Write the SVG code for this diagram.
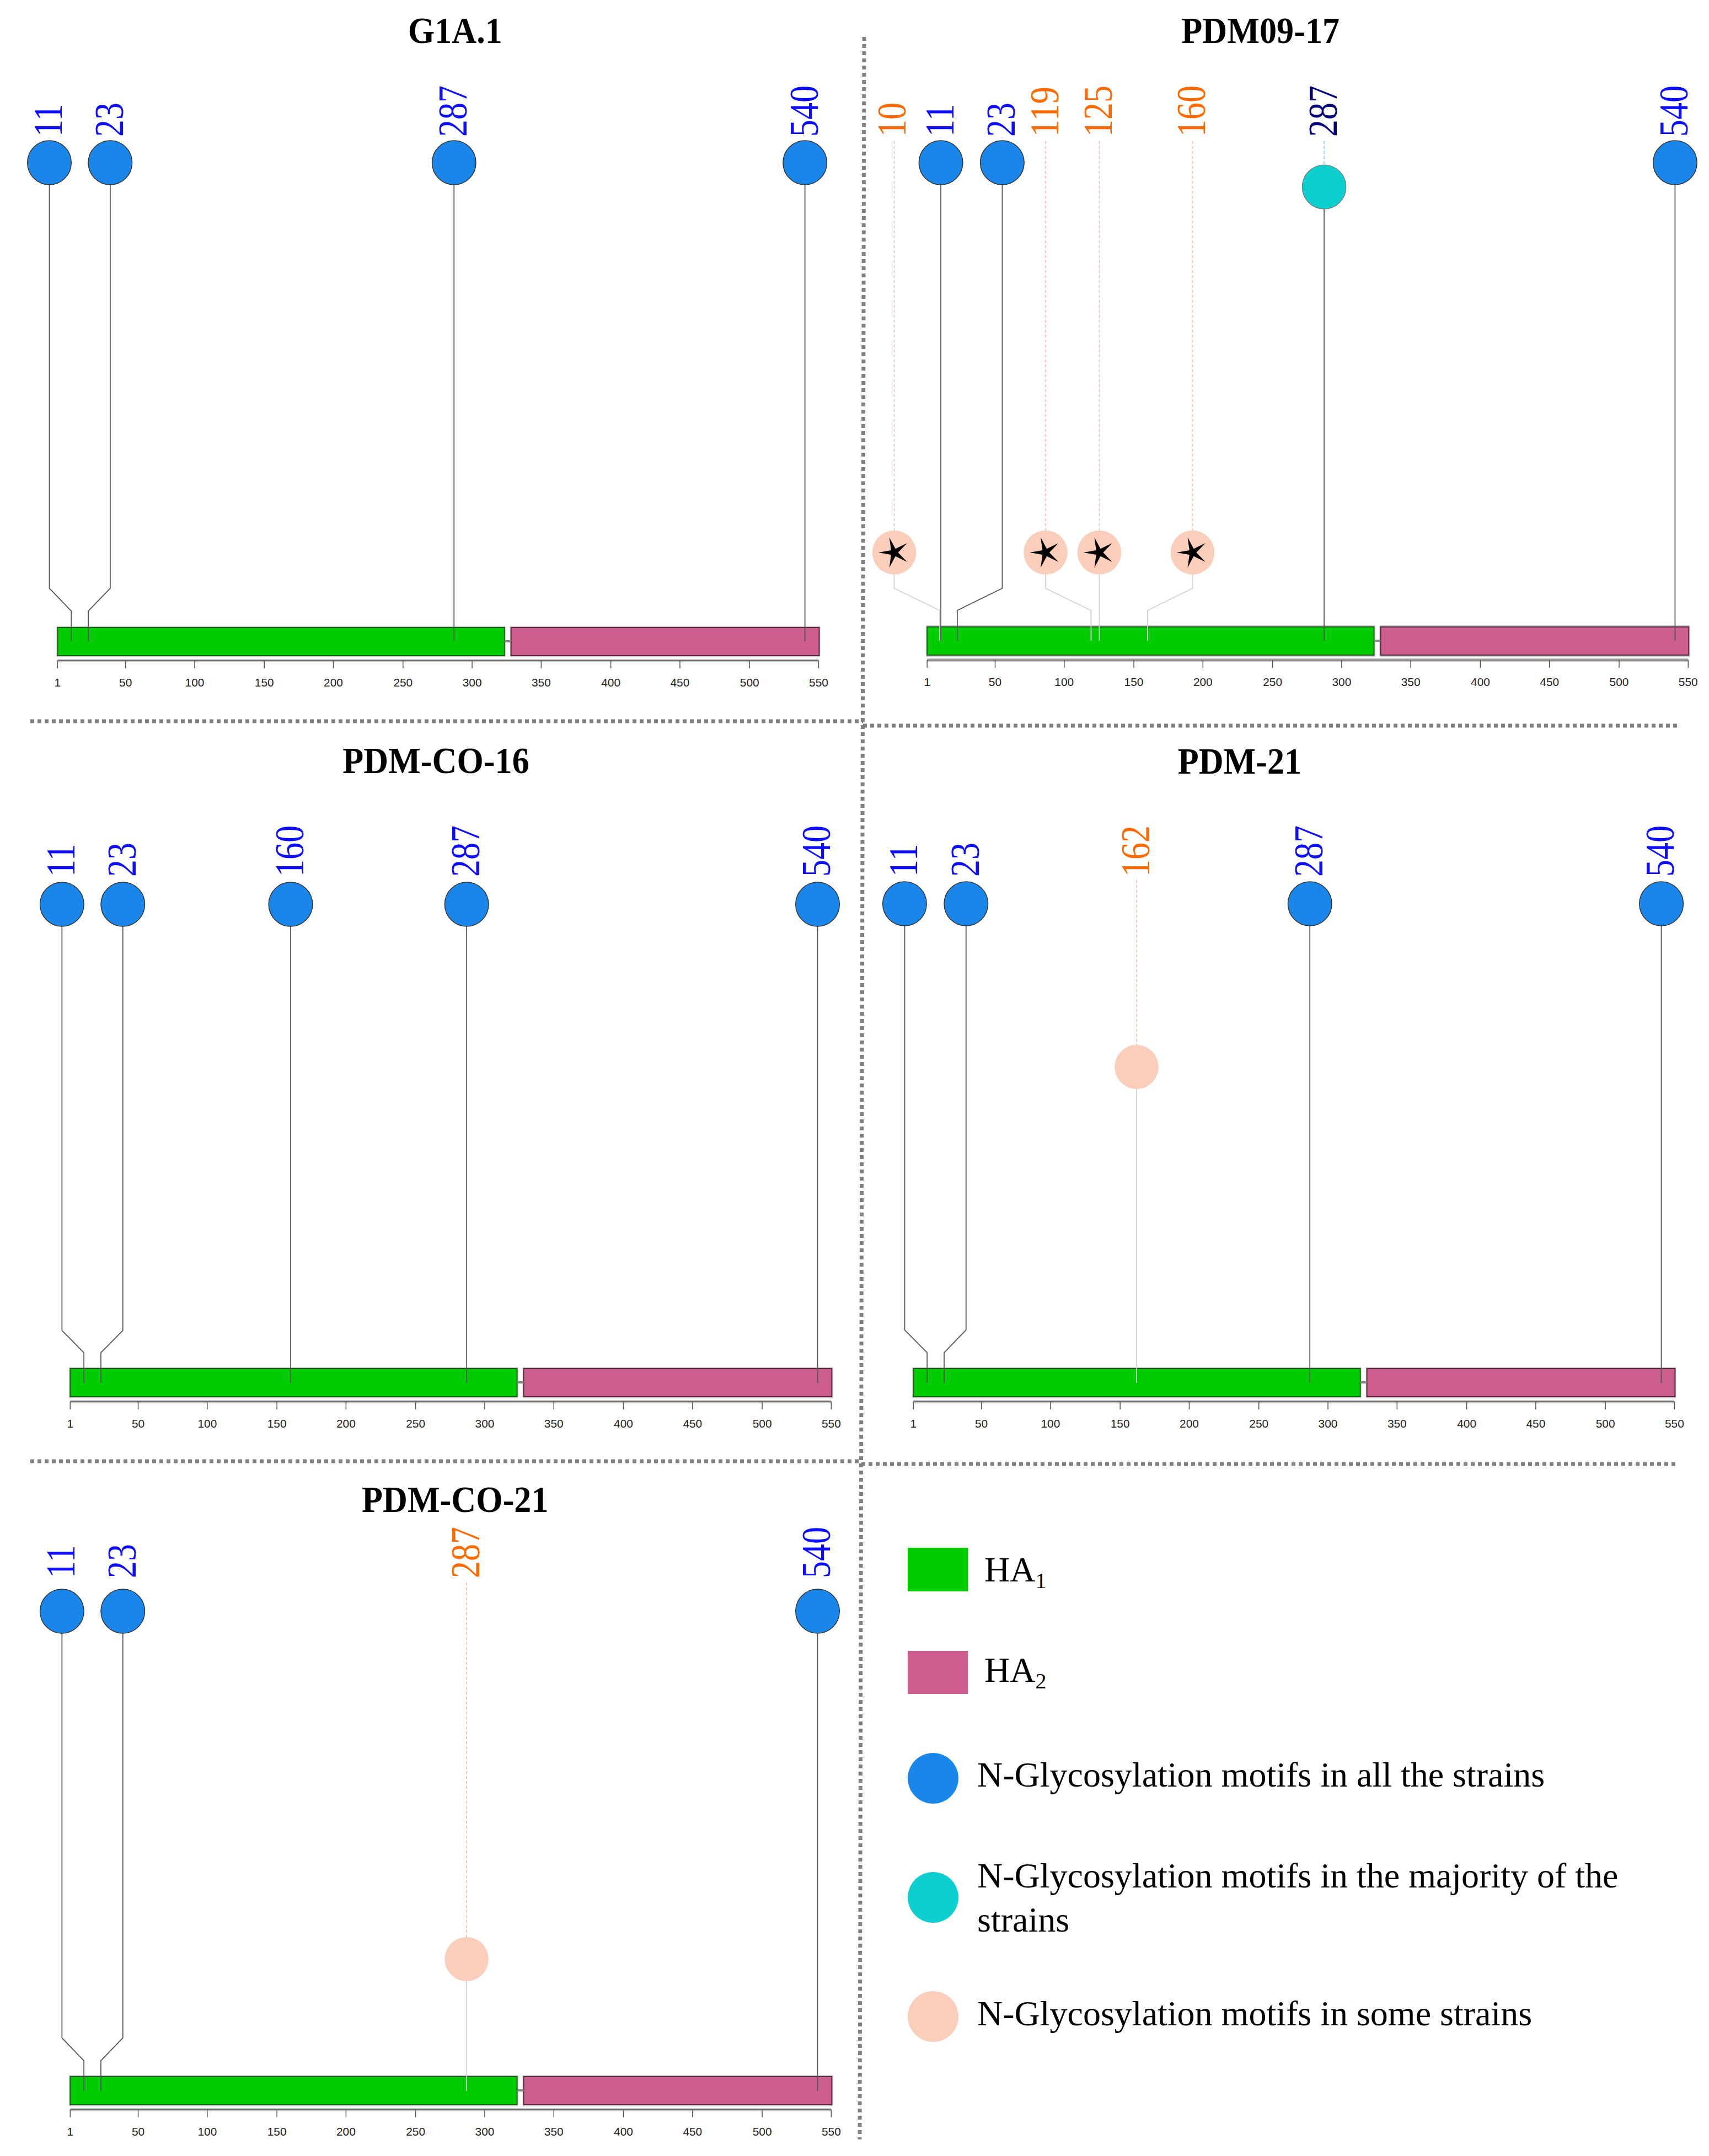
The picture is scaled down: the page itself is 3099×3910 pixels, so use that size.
<svg xmlns="http://www.w3.org/2000/svg" xmlns:xlink="http://www.w3.org/1999/xlink" width="3099" height="3910" viewBox="0 0 3099 3910">
<style>
.title{font-family:"Liberation Serif",serif;font-weight:bold;font-size:68px;text-anchor:middle;fill:#000}
.lbl{font-family:"Liberation Serif",serif;font-size:62px}
.b{fill:#0d0dff}.o{fill:#ff6a00}.n{fill:#00007a}
.tick{font-family:"Liberation Sans",sans-serif;font-size:21px;text-anchor:middle;fill:#222}
.stem{fill:none;stroke:#555;stroke-width:1.8}
.stemL{fill:none;stroke:#d2d2d2;stroke-width:1.8}
.dashO{fill:none;stroke:#f7b7a2;stroke-width:1.5;stroke-dasharray:5 4}
.dashC{fill:none;stroke:#6fd3d3;stroke-width:1.5;stroke-dasharray:5 4}
.cb{fill:#1a86ea;stroke:#333;stroke-width:1.5}
.cc{fill:#0ecfcf;stroke:#777;stroke-width:1.2}
.cp{fill:#fbcdbb}
.sep{fill:none;stroke:#808080;stroke-width:7;stroke-dasharray:7 6}
.leg{font-family:"Liberation Serif",serif;font-size:64px;fill:#000}
.shadow{fill:#cfcfcf}
.g1{fill:#00cc00;stroke:#1d5e1d;stroke-width:2}
.g2{fill:#cc5e8e;stroke:#5a2a40;stroke-width:2}
.axbg{stroke:#c8c8c8;stroke-width:6}
.ax{stroke:#555;stroke-width:1.5;fill:none}
</style>
<defs>
<path id="star" d="M-29,0 L-5.66,-4.11 L-8.96,-27.58 L2.16,-6.66 L23.46,-17.05 L7,0 L23.46,17.05 L2.16,6.66 L-8.96,27.58 L-5.66,4.11 Z" fill="#000"/>
<g id="trackShapes">
<rect class="shadow" x="-2" y="-3" width="819" height="57"/>
<rect class="g1" x="0" y="0" width="815" height="51"/>
<rect class="shadow" x="825" y="-3" width="566" height="57"/>
<rect class="g2" x="827" y="0" width="562" height="51"/>
<line x1="815" y1="25" x2="827" y2="25" stroke="#888" stroke-width="4"/>
<line class="axbg" x1="0" y1="60" x2="1388" y2="60"/>
<line class="ax" x1="0" y1="60" x2="1388" y2="60"/>
<path class="ax" d="M0,60V74M124,60V74M250,60V74M377,60V74M503,60V74M630,60V74M756,60V74M882,60V74M1009,60V74M1135,60V74M1262,60V74M1388,60V74"/>
</g>
</defs>
<rect width="3099" height="3910" fill="#fff"/>

<g id="separators">
<path class="sep" d="M55,1308H1565"/>
<path class="sep" d="M1565,1316H3041"/>
<path class="sep" d="M55,2650H1562"/>
<path class="sep" d="M1562,2655H3041"/>
<path class="sep" d="M1567,67L1559,3880"/>
</g>

<!-- Panel A -->
<g id="panel-G1A1" transform="scale(0.9943,1)">
<text class="title" transform="translate(830,78) scale(0.92,1)">G1A.1</text>
<g id="A-track" transform="translate(105,1138)">
<use xlink:href="#trackShapes"/>
<text class="tick" x="0" y="107">1</text><text class="tick" x="124" y="107">50</text><text class="tick" x="250" y="107">100</text><text class="tick" x="377" y="107">150</text><text class="tick" x="503" y="107">200</text><text class="tick" x="630" y="107">250</text><text class="tick" x="756" y="107">300</text><text class="tick" x="882" y="107">350</text><text class="tick" x="1009" y="107">400</text><text class="tick" x="1135" y="107">450</text><text class="tick" x="1262" y="107">500</text><text class="tick" x="1388" y="107">550</text>
</g>
<g id="A-connectors">
<path class="stem" d="M90,335V1067L130,1108V1163"/>
<path class="stem" d="M201,335V1067L161,1108V1163"/>
<path class="stem" d="M828,335V1163"/>
<path class="stem" d="M1468,335V1163"/>
</g>
<g id="A-n11"><circle class="cb" cx="90" cy="295" r="40"/><text class="lbl b" transform="translate(113,248) rotate(-90) scale(1,1.2)">11</text></g>
<g id="A-n23"><circle class="cb" cx="201" cy="295" r="40"/><text class="lbl b" transform="translate(224,248) rotate(-90) scale(1,1.2)">23</text></g>
<g id="A-n287"><circle class="cb" cx="828" cy="295" r="40"/><text class="lbl b" transform="translate(851,248) rotate(-90) scale(1,1.2)">287</text></g>
<g id="A-n540"><circle class="cb" cx="1468" cy="295" r="40"/><text class="lbl b" transform="translate(1491,248) rotate(-90) scale(1,1.2)">540</text></g>
</g>

<!-- Panel B -->
<g id="panel-PDM09-17" transform="matrix(0.9943,0,0,1,8.78,0)">
<text class="title" transform="translate(2290,78) scale(0.92,1)">PDM09-17</text>
<g id="B-track" transform="translate(1682,1137)">
<use xlink:href="#trackShapes"/>
<text class="tick" x="0" y="107">1</text><text class="tick" x="124" y="107">50</text><text class="tick" x="250" y="107">100</text><text class="tick" x="377" y="107">150</text><text class="tick" x="503" y="107">200</text><text class="tick" x="630" y="107">250</text><text class="tick" x="756" y="107">300</text><text class="tick" x="882" y="107">350</text><text class="tick" x="1009" y="107">400</text><text class="tick" x="1135" y="107">450</text><text class="tick" x="1262" y="107">500</text><text class="tick" x="1388" y="107">550</text>
</g>
<g id="B-connectors">
<path class="dashO" d="M1622,256V962"/>
<path class="dashO" d="M1898,256V962"/>
<path class="dashO" d="M1996,256V962"/>
<path class="dashO" d="M2166,256V962"/>
<path class="dashC" d="M2406,256V299"/>
<path class="stemL" d="M1622,1042V1067L1705,1107V1162"/>
<path class="stemL" d="M1898,1042V1067L1981,1107V1162"/>
<path class="stemL" d="M1996,1042V1162"/>
<path class="stemL" d="M2166,1042V1067L2084,1107V1162"/>
<path class="stem" d="M1707,335V1162"/>
<path class="stem" d="M1819,335V1067L1737,1107V1162"/>
<path class="stem" stroke="#888" d="M2406,379V1162"/>
<path class="stem" d="M3046,335V1162"/>
</g>
<g id="B-n10"><circle class="cp" cx="1622" cy="1002" r="40"/><use xlink:href="#star" x="1622" y="1002"/><text class="lbl o" transform="translate(1643,248) rotate(-90) scale(1,1.2)">10</text></g>
<g id="B-n11"><circle class="cb" cx="1707" cy="295" r="40"/><text class="lbl b" transform="translate(1730,248) rotate(-90) scale(1,1.2)">11</text></g>
<g id="B-n23"><circle class="cb" cx="1819" cy="295" r="40"/><text class="lbl b" transform="translate(1842,248) rotate(-90) scale(1,1.2)">23</text></g>
<g id="B-n119"><circle class="cp" cx="1898" cy="1002" r="40"/><use xlink:href="#star" x="1898" y="1002"/><text class="lbl o" transform="translate(1921,248) rotate(-90) scale(1,1.2)">119</text></g>
<g id="B-n125"><circle class="cp" cx="1996" cy="1002" r="40"/><use xlink:href="#star" x="1996" y="1002"/><text class="lbl o" transform="translate(2019,248) rotate(-90) scale(1,1.2)">125</text></g>
<g id="B-n160"><circle class="cp" cx="2166" cy="1002" r="40"/><use xlink:href="#star" x="2166" y="1002"/><text class="lbl o" transform="translate(2189,248) rotate(-90) scale(1,1.2)">160</text></g>
<g id="B-n287"><circle class="cc" cx="2406" cy="339" r="40"/><text class="lbl n" transform="translate(2429,248) rotate(-90) scale(1,1.2)">287</text></g>
<g id="B-n540"><circle class="cb" cx="3046" cy="295" r="40"/><text class="lbl b" transform="translate(3069,248) rotate(-90) scale(1,1.2)">540</text></g>
</g>

<!-- Panel C -->
<g id="panel-PDM-CO-16" transform="scale(0.9943,1)">
<text class="title" transform="translate(795,1402) scale(0.92,1)">PDM-CO-16</text>
<g id="C-track" transform="translate(128,2482)">
<use xlink:href="#trackShapes"/>
<text class="tick" x="0" y="107">1</text><text class="tick" x="124" y="107">50</text><text class="tick" x="250" y="107">100</text><text class="tick" x="377" y="107">150</text><text class="tick" x="503" y="107">200</text><text class="tick" x="630" y="107">250</text><text class="tick" x="756" y="107">300</text><text class="tick" x="882" y="107">350</text><text class="tick" x="1009" y="107">400</text><text class="tick" x="1135" y="107">450</text><text class="tick" x="1262" y="107">500</text><text class="tick" x="1388" y="107">550</text>
</g>
<g id="C-connectors">
<path class="stem" d="M113,1680V2413L153,2453V2508"/>
<path class="stem" d="M224,1680V2413L184,2453V2508"/>
<path class="stem" d="M530,1680V2508"/>
<path class="stem" d="M851,1680V2508"/>
<path class="stem" d="M1491,1680V2508"/>
</g>
<g id="C-n11"><circle class="cb" cx="113" cy="1640" r="40"/><text class="lbl b" transform="translate(136,1590) rotate(-90) scale(1,1.2)">11</text></g>
<g id="C-n23"><circle class="cb" cx="224" cy="1640" r="40"/><text class="lbl b" transform="translate(247,1590) rotate(-90) scale(1,1.2)">23</text></g>
<g id="C-n160"><circle class="cb" cx="530" cy="1640" r="40"/><text class="lbl b" transform="translate(553,1590) rotate(-90) scale(1,1.2)">160</text></g>
<g id="C-n287"><circle class="cb" cx="851" cy="1640" r="40"/><text class="lbl b" transform="translate(874,1590) rotate(-90) scale(1,1.2)">287</text></g>
<g id="C-n540"><circle class="cb" cx="1491" cy="1640" r="40"/><text class="lbl b" transform="translate(1514,1590) rotate(-90) scale(1,1.2)">540</text></g>
</g>

<!-- Panel D -->
<g id="panel-PDM-21" transform="matrix(0.9943,0,0,1,8.78,0)">
<text class="title" transform="translate(2252,1403) scale(0.92,1)">PDM-21</text>
<g id="D-track" transform="translate(1657,2482)">
<use xlink:href="#trackShapes"/>
<text class="tick" x="0" y="107">1</text><text class="tick" x="124" y="107">50</text><text class="tick" x="250" y="107">100</text><text class="tick" x="377" y="107">150</text><text class="tick" x="503" y="107">200</text><text class="tick" x="630" y="107">250</text><text class="tick" x="756" y="107">300</text><text class="tick" x="882" y="107">350</text><text class="tick" x="1009" y="107">400</text><text class="tick" x="1135" y="107">450</text><text class="tick" x="1262" y="107">500</text><text class="tick" x="1388" y="107">550</text>
</g>
<g id="D-connectors">
<path class="stem" d="M1641,1679V2412L1682,2453V2508"/>
<path class="stem" d="M1753,1679V2412L1713,2453V2508"/>
<path class="dashO" d="M2064,1596V1896"/>
<path class="stemL" d="M2064,1974V2508"/>
<path class="stem" d="M2380,1679V2508"/>
<path class="stem" d="M3021,1679V2508"/>
</g>
<g id="D-n11"><circle class="cb" cx="1641" cy="1639" r="40"/><text class="lbl b" transform="translate(1664,1590) rotate(-90) scale(1,1.2)">11</text></g>
<g id="D-n23"><circle class="cb" cx="1753" cy="1639" r="40"/><text class="lbl b" transform="translate(1776,1590) rotate(-90) scale(1,1.2)">23</text></g>
<g id="D-n162"><circle class="cp" cx="2064" cy="1935" r="40"/><text class="lbl o" transform="translate(2087,1590) rotate(-90) scale(1,1.2)">162</text></g>
<g id="D-n287"><circle class="cb" cx="2380" cy="1639" r="40"/><text class="lbl b" transform="translate(2403,1590) rotate(-90) scale(1,1.2)">287</text></g>
<g id="D-n540"><circle class="cb" cx="3021" cy="1639" r="40"/><text class="lbl b" transform="translate(3044,1590) rotate(-90) scale(1,1.2)">540</text></g>
</g>

<!-- Panel E -->
<g id="panel-PDM-CO-21" transform="scale(0.9943,1)">
<text class="title" transform="translate(830,2742) scale(0.92,1)">PDM-CO-21</text>
<g id="E-track" transform="translate(128,3766)">
<use xlink:href="#trackShapes"/>
<text class="tick" x="0" y="107">1</text><text class="tick" x="124" y="107">50</text><text class="tick" x="250" y="107">100</text><text class="tick" x="377" y="107">150</text><text class="tick" x="503" y="107">200</text><text class="tick" x="630" y="107">250</text><text class="tick" x="756" y="107">300</text><text class="tick" x="882" y="107">350</text><text class="tick" x="1009" y="107">400</text><text class="tick" x="1135" y="107">450</text><text class="tick" x="1262" y="107">500</text><text class="tick" x="1388" y="107">550</text>
</g>
<g id="E-connectors">
<path class="stem" d="M113,2962V3696L153,3737V3792"/>
<path class="stem" d="M224,2962V3696L184,3737V3792"/>
<path class="dashO" d="M851,2870V3514"/>
<path class="stemL" d="M851,3592V3792"/>
<path class="stem" d="M1491,2962V3792"/>
</g>
<g id="E-n11"><circle class="cb" cx="113" cy="2922" r="40"/><text class="lbl b" transform="translate(136,2862) rotate(-90) scale(1,1.2)">11</text></g>
<g id="E-n23"><circle class="cb" cx="224" cy="2922" r="40"/><text class="lbl b" transform="translate(247,2862) rotate(-90) scale(1,1.2)">23</text></g>
<g id="E-n287"><circle class="cp" cx="851" cy="3553" r="40"/><text class="lbl o" transform="translate(874,2862) rotate(-90) scale(1,1.2)">287</text></g>
<g id="E-n540"><circle class="cb" cx="1491" cy="2922" r="40"/><text class="lbl b" transform="translate(1514,2862) rotate(-90) scale(1,1.2)">540</text></g>
</g>

<!-- Legend -->
<g id="legend">
<g id="leg-HA1"><rect x="1646" y="2807" width="109" height="79" fill="#00cc00"/><text class="leg" x="1785" y="2868" font-size="62">HA<tspan font-size="40" dy="12">1</tspan></text></g>
<g id="leg-HA2"><rect x="1646" y="2994" width="109" height="78" fill="#cc5e8e"/><text class="leg" x="1785" y="3050" font-size="62">HA<tspan font-size="40" dy="12">2</tspan></text></g>
<g id="leg-all"><circle cx="1692" cy="3225" r="46" fill="#1a86ea"/><text class="leg" x="1772" y="3240">N-Glycosylation motifs in all the strains</text></g>
<g id="leg-majority"><circle cx="1692" cy="3441" r="46" fill="#0ecfcf"/><text class="leg" x="1772" y="3423">N-Glycosylation motifs in the majority of the</text><text class="leg" x="1772" y="3503">strains</text></g>
<g id="leg-some"><circle cx="1692" cy="3657" r="46" fill="#fbcdbb"/><text class="leg" x="1772" y="3673">N-Glycosylation motifs in some strains</text></g>
</g>
</svg>
